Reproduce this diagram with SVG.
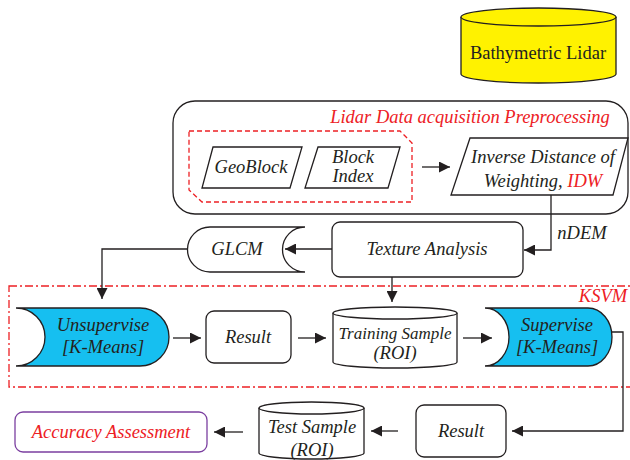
<svg xmlns="http://www.w3.org/2000/svg" width="630" height="460" viewBox="0 0 630 460">
<defs>
<marker id="ah" viewBox="0 0 10 10" refX="10" refY="5" markerWidth="11" markerHeight="11" markerUnits="userSpaceOnUse" orient="auto">
<path d="M0,0 L10,5 L0,10 Z" fill="#231f20"/>
</marker>
<style>
.s{fill:#fff;stroke:#231f20;stroke-width:1.3}
.b{fill:#16bff0;stroke:#231f20;stroke-width:1.3}
.t{font-family:"Liberation Serif",serif;font-style:italic;font-size:18.5px;fill:#231f20;text-anchor:middle}
.c{fill:none;stroke:#231f20;stroke-width:1.3;marker-end:url(#ah)}
</style>
</defs>
<rect width="630" height="460" fill="#fff"/>

<g id="bathymetric-lidar">
<path d="M461,17 L461,74 A77.5,9 0 0 0 616,74 L616,17" fill="#fff200" stroke="#231f20" stroke-width="1.3"/>
<ellipse cx="538.5" cy="17" rx="77.5" ry="9" fill="#fff200" stroke="#231f20" stroke-width="1.3"/>
<text x="538" y="59" style="font-family:'Liberation Serif',serif;font-size:18.5px;fill:#231f20;text-anchor:middle">Bathymetric Lidar</text>
</g>

<g id="preprocessing">
<rect x="173" y="101" width="455" height="113" rx="22" fill="none" stroke="#231f20" stroke-width="1.3"/>
<text x="470" y="123" class="t" style="fill:#ed2024">Lidar Data acquisition Preprocessing</text>
<polygon points="189,131 400,131 412,143 412,202 202,202 189,190" fill="none" stroke="#ed2024" stroke-width="1.3" stroke-dasharray="5,3"/>
</g>

<g id="geoblock">
<polygon points="213,147 302,147 290,188 202,188" class="s"/>
<text x="251" y="173" class="t">GeoBlock</text>
</g>

<g id="block-index">
<polygon points="318,147 400,147 388,188 305,188" class="s"/>
<text x="353" y="163" class="t">Block</text>
<text x="353" y="182" class="t">Index</text>
</g>

<g id="idw">
<polygon points="470,138 628,138 613,195 451,195" class="s"/>
<text x="543" y="163" class="t">Inverse Distance of</text>
<text x="543" y="187" class="t">Weighting, <tspan style="fill:#ed2024">IDW</tspan></text>
</g>

<g id="texture-analysis">
<rect x="332" y="222" width="191" height="55" rx="8" class="s"/>
<text x="427" y="255" class="t">Texture Analysis</text>
</g>

<g id="glcm">
<path d="M305,227 L210,227 A22.5,22.5 0 0 0 210,272 L305,272 A22.5,22.5 0 0 1 305,227 Z" class="s"/>
<text x="237" y="255" class="t">GLCM</text>
</g>

<g id="ksvm">
<rect x="9" y="286" width="630" height="101" fill="none" stroke="#ed2024" stroke-width="1.3" stroke-dasharray="8,3,2,3"/>
<text x="603" y="302" class="t" style="fill:#ed2024">KSVM</text>
</g>

<g id="unsupervise">
<path d="M16,308 L140,308 A29,29 0 0 1 140,366 L16,366 A29,29 0 0 0 16,308 Z" class="b"/>
<text x="103" y="331" class="t">Unsupervise</text>
<text x="103" y="353" class="t">[K-Means]</text>
</g>

<g id="result-1">
<rect x="206" y="311" width="85" height="52" rx="8" class="s"/>
<text x="248" y="343" class="t">Result</text>
</g>

<g id="training-sample">
<path d="M333,313 L333,362 A62,6 0 0 0 457,362 L457,313" class="s"/>
<ellipse cx="395" cy="313" rx="62" ry="6" class="s"/>
<text x="395" y="339" class="t" style="font-size:17px">Training Sample</text>
<text x="395" y="359" class="t">(ROI)</text>
</g>

<g id="supervise">
<path d="M485,308 L588,308 A24,29 0 0 1 588,366 L485,366 A24,29 0 0 0 485,308 Z" class="b"/>
<text x="557" y="331" class="t">Supervise</text>
<text x="557" y="353" class="t">[K-Means]</text>
</g>

<g id="result-2">
<rect x="416" y="405" width="90" height="52" rx="8" class="s"/>
<text x="461" y="437" class="t">Result</text>
</g>

<g id="test-sample">
<path d="M259,408 L259,453 A52.5,6 0 0 0 364,453 L364,408" class="s"/>
<ellipse cx="311.5" cy="408" rx="52.5" ry="6" class="s"/>
<text x="312" y="433" class="t">Test Sample</text>
<text x="312" y="456" class="t">(ROI)</text>
</g>

<g id="accuracy-assessment">
<rect x="15" y="412" width="192" height="40" rx="8" fill="#fff" stroke="#7b3fa0" stroke-width="1.3"/>
<text x="111" y="438" class="t" style="fill:#ed2024">Accuracy Assessment</text>
</g>

<g id="connectors">
<path d="M422,167 L450,167" class="c"/>
<path d="M551,195 L551,250 L524,250" class="c"/>
<text x="582" y="239" class="t">nDEM</text>
<path d="M332,249 L285,249" class="c"/>
<path d="M187,249 L102,249 L102,299" class="c"/>
<path d="M392,277 L392,302" class="c"/>
<path d="M173,338 L201,338" class="c"/>
<path d="M298,338 L326,338" class="c"/>
<path d="M463,338 L492,338" class="c"/>
<path d="M612,332 L623,332 L623,431 L512,431" class="c"/>
<path d="M398,431 L371,431" class="c"/>
<path d="M243,432 L214,432" class="c"/>
</g>
</svg>
